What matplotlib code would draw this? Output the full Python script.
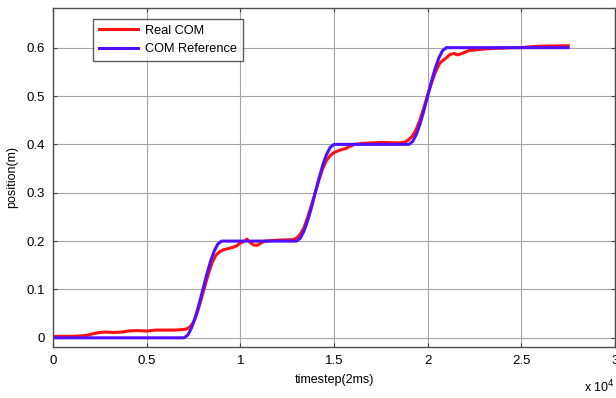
import matplotlib
matplotlib.use('Agg')
from matplotlib import pyplot as plt
import numpy as np

plt.rcParams['font.family'] = ['Liberation Sans', 'DejaVu Sans']

# COM reference (timestep, position)
ref_t = [0, 7000, 7200, 7400, 7600, 7800, 8000, 8200, 8400, 8600, 8800, 9000,
         13000, 13200, 13400, 13600, 13800, 14000, 14200, 14400, 14600, 14800, 15000,
         19000, 19200, 19400, 19600, 19800, 20000, 20200, 20400, 20600, 20800, 21000,
         27500]
ref_pos = [0, 0, 0.006, 0.021, 0.043, 0.070, 0.100, 0.130, 0.157, 0.179, 0.194, 0.200,
           0.200, 0.206, 0.221, 0.243, 0.270, 0.300, 0.330, 0.357, 0.379, 0.394, 0.400,
           0.400, 0.406, 0.421, 0.443, 0.470, 0.500, 0.530, 0.557, 0.579, 0.594, 0.600,
           0.600]

# real COM (timestep, position)
real_t = [0, 1000, 1500, 1800, 2000, 2200, 2500, 2800, 3200, 3700, 4000, 4500, 5000,
          5500, 6000, 6500, 6900, 7100, 7300, 7500, 7700, 7900, 8100, 8300, 8500,
          8700, 8900, 9100, 9300, 9600, 9800, 10000, 10200, 10350, 10500, 10700,
          10900, 11100, 11300, 12000, 12800, 13000, 13200, 13400, 13600, 13800,
          14000, 14200, 14400, 14600, 14800, 15000, 15300, 15600, 15800, 16100,
          16500, 17500, 18500, 18800, 19000, 19200, 19400, 19600, 19800, 20000,
          20200, 20400, 20600, 20700, 20900, 21200, 21400, 21600, 21900, 22200,
          22700, 23300, 24500, 25000, 25500, 26000, 27500]
real_pos = [0.003, 0.003, 0.004, 0.005, 0.007, 0.009, 0.011, 0.012, 0.011, 0.012,
            0.014, 0.015, 0.014, 0.016, 0.016, 0.016, 0.017, 0.018, 0.022, 0.032,
            0.052, 0.078, 0.106, 0.133, 0.156, 0.171, 0.178, 0.182, 0.184, 0.187,
            0.190, 0.196, 0.199, 0.204, 0.198, 0.192, 0.191, 0.196, 0.200, 0.202,
            0.203, 0.206, 0.214, 0.228, 0.250, 0.275, 0.300, 0.327, 0.350, 0.367,
            0.377, 0.383, 0.388, 0.391, 0.395, 0.400, 0.402, 0.404, 0.403, 0.405,
            0.410, 0.418, 0.432, 0.452, 0.476, 0.502, 0.526, 0.548, 0.565, 0.570,
            0.576, 0.586, 0.588, 0.585, 0.589, 0.594, 0.596, 0.598, 0.600, 0.600,
            0.602, 0.603, 0.604]

xticks = [0, 5000, 10000, 15000, 20000, 25000, 30000]
xlabels = ['0', '0.5', '1', '1.5', '2', '2.5', '3']
yticks = [0, 0.1, 0.2, 0.3, 0.4, 0.5, 0.6]

fig = plt.figure(figsize=(6.16, 3.98), dpi=100)
ax = fig.add_axes([53 / 616, 1 - 347 / 398, 562 / 616, 339 / 398])

ax.plot(real_t, real_pos, color='#ff1010', lw=2.2, label='Real COM')
ax.plot(ref_t, ref_pos, color='#5010ff', lw=2.2, label='COM Reference')

ax.set_xlim(0, 30000)
ax.set_ylim(-0.019, 0.682)
ax.set_xticks(xticks)
ax.set_xticklabels(xlabels)
ax.set_yticks(yticks)
ax.set_yticklabels(['0', '0.1', '0.2', '0.3', '0.4', '0.5', '0.6'])
ax.tick_params(direction='in', top=True, right=True, length=3, labelsize=9.5,
               color='0.25', pad=6)
ax.grid(True, color='0.65', lw=0.8)
for s in ax.spines.values():
    s.set_color('0.3')
    s.set_linewidth(1.0)

ax.set_xlabel('timestep(2ms)', fontsize=9, labelpad=5)
ax.set_ylabel('position(m)', fontsize=9, labelpad=6)
fig.text(584 / 616, 1 - 387 / 398, r'x 10$^{4}$', fontsize=9, ha='left', va='center')

leg = ax.legend(loc='upper left', bbox_to_anchor=(0.071, 0.967), fontsize=9.2,
                frameon=True, fancybox=False, edgecolor='0.2', handlelength=3.1,
                borderpad=0.45, labelspacing=0.5, handletextpad=0.55,
                borderaxespad=0)
leg.get_frame().set_linewidth(1.0)

fig.savefig('out.png', dpi=100)
